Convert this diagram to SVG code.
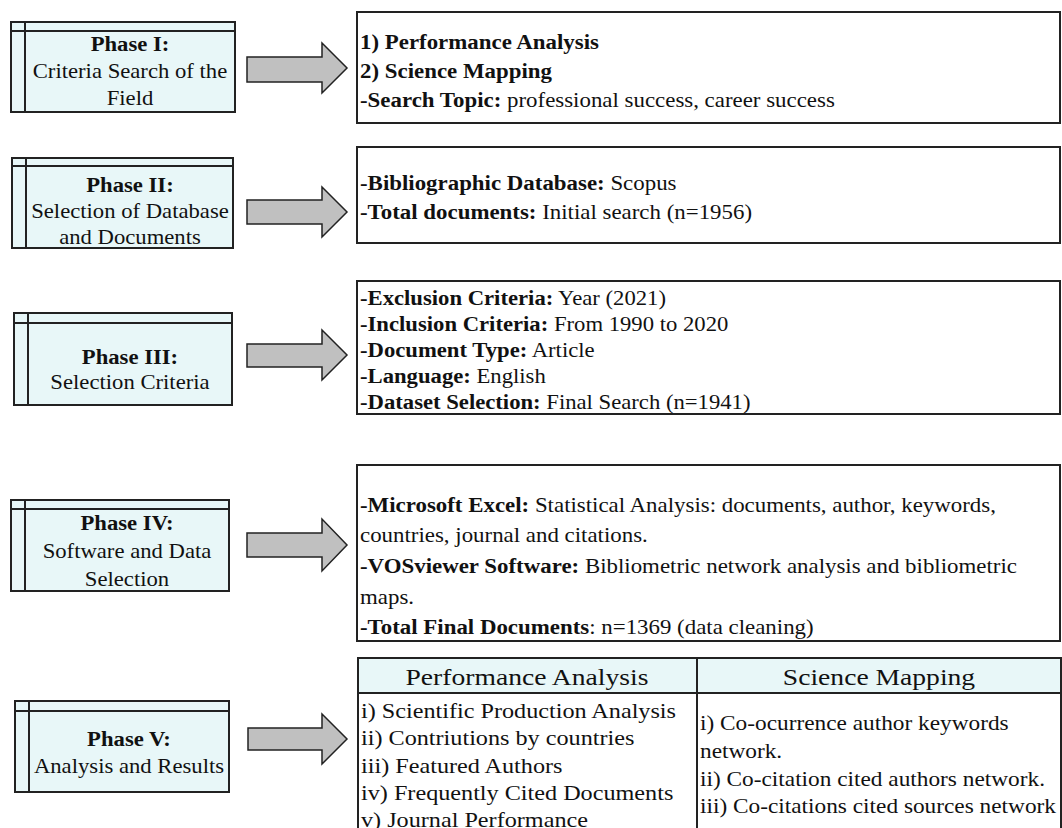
<svg xmlns="http://www.w3.org/2000/svg" width="1062" height="828" viewBox="0 0 1062 828">
<style>
  text { font-family: "Liberation Serif", "Times New Roman", serif; fill: #111; }
  .ph { font-size: 21px; text-anchor: middle; }
  .b { font-weight: bold; }
  .bx { font-size: 21px; }
  .tb { font-size: 22px; }
  .hd { font-size: 24px; text-anchor: middle; }
  .pbox { fill: #e8f7f8; stroke: #222; stroke-width: 2; }
  .pline { stroke: #222; stroke-width: 2; fill: none; }
  .tbox { fill: #fff; stroke: #222; stroke-width: 2; }
  .arrow { fill: #c0c0c0; stroke: #222; stroke-width: 1.5; stroke-linejoin: miter; }
</style>
<rect width="1062" height="828" fill="#fff"/>

<g id="connectors">
  <path class="arrow" d="M247,57 H322 V43 L347,68 L322,93 V82 H247 Z"/>
  <path class="arrow" d="M247,200 H322 V187 L347,212 L322,237 V224 H247 Z"/>
  <path class="arrow" d="M247,344 H322 V330 L347,355 L322,380 V367 H247 Z"/>
  <path class="arrow" d="M247,533 H322 V519 L347,545 L322,571 V557 H247 Z"/>
  <path class="arrow" d="M248,728 H322 V714 L347,739 L322,764 V750 H248 Z"/>
</g>

<g id="phase1">
  <rect class="pbox" x="11" y="22" width="224" height="90"/>
  <path class="pline" d="M11,31 H235 M25,22 V112"/>
  <g transform="matrix(1.08,0,0,1,-10.4,0)">
    <text class="ph b" x="130" y="51">Phase I:</text>
    <text class="ph" x="130" y="78">Criteria Search of the</text>
    <text class="ph" x="130" y="105">Field</text>
  </g>
</g>

<g id="phase2">
  <rect class="pbox" x="12" y="158" width="221" height="90"/>
  <path class="pline" d="M12,166 H233 M26,158 V248"/>
  <g transform="matrix(1.08,0,0,1,-10.4,0)">
    <text class="ph b" x="130" y="192">Phase II:</text>
    <text class="ph" x="130" y="218">Selection of Database</text>
    <text class="ph" x="130" y="244">and Documents</text>
  </g>
</g>

<g id="phase3">
  <rect class="pbox" x="14" y="313" width="218" height="92"/>
  <path class="pline" d="M14,323 H232 M28,313 V405"/>
  <g transform="matrix(1.08,0,0,1,-10.4,0)">
    <text class="ph b" x="130" y="364">Phase III:</text>
    <text class="ph" x="130" y="389">Selection Criteria</text>
  </g>
</g>

<g id="phase4">
  <rect class="pbox" x="11" y="500" width="218" height="91"/>
  <path class="pline" d="M11,509 H229 M25,500 V591"/>
  <g transform="matrix(1.08,0,0,1,-10.16,0)">
    <text class="ph b" x="127" y="530">Phase IV:</text>
    <text class="ph" x="127" y="558">Software and Data</text>
    <text class="ph" x="127" y="586">Selection</text>
  </g>
</g>

<g id="phase5">
  <rect class="pbox" x="15" y="701" width="214" height="91"/>
  <path class="pline" d="M15,711 H229 M29,701 V792"/>
  <g transform="matrix(1.08,0,0,1,-10.32,0)">
    <text class="ph b" x="129" y="746">Phase V:</text>
    <text class="ph" x="129" y="773">Analysis and Results</text>
  </g>
</g>

<g id="box1">
  <rect class="tbox" x="357" y="12" width="703" height="111"/>
  <g transform="matrix(1.09,0,0,1,-32.4,0)">
    <text class="bx b" x="360" y="49">1) Performance Analysis</text>
    <text class="bx b" x="360" y="78">2) Science Mapping</text>
    <text class="bx" x="360" y="107"><tspan class="b">-Search Topic:</tspan> professional success, career success</text>
  </g>
</g>

<g id="box2">
  <rect class="tbox" x="357" y="147" width="703" height="96"/>
  <g transform="matrix(1.09,0,0,1,-32.4,0)">
    <text class="bx" x="360" y="190"><tspan class="b">-Bibliographic Database:</tspan> Scopus</text>
    <text class="bx" x="360" y="219"><tspan class="b">-Total documents:</tspan> Initial search (n=1956)</text>
  </g>
</g>

<g id="box3">
  <rect class="tbox" x="357" y="281" width="703" height="133"/>
  <g transform="matrix(1.08,0,0,1,-28.8,0)">
    <text class="bx" x="360" y="305"><tspan class="b">-Exclusion Criteria:</tspan> Year (2021)</text>
    <text class="bx" x="360" y="331"><tspan class="b">-Inclusion Criteria:</tspan> From 1990 to 2020</text>
    <text class="bx" x="360" y="357"><tspan class="b">-Document Type:</tspan> Article</text>
    <text class="bx" x="360" y="383"><tspan class="b">-Language:</tspan> English</text>
    <text class="bx" x="360" y="409"><tspan class="b">-Dataset Selection:</tspan> Final Search (n=1941)</text>
  </g>
</g>

<g id="box4">
  <rect class="tbox" x="357" y="465" width="703" height="176"/>
  <g transform="matrix(1.09,0,0,1,-32.4,0)">
    <text class="bx" x="360" y="512"><tspan class="b">-Microsoft Excel:</tspan> Statistical Analysis: documents, author, keywords,</text>
    <text class="bx" x="360" y="542">countries, journal and citations.</text>
    <text class="bx" x="360" y="573"><tspan class="b">-VOSviewer Software:</tspan> Bibliometric network analysis and bibliometric</text>
    <text class="bx" x="360" y="604">maps.</text>
    <text class="bx" x="360" y="634"><tspan class="b">-Total Final Documents</tspan>: n=1369 (data cleaning)</text>
  </g>
</g>

<g id="table5">
  <rect x="358" y="658" width="703" height="35" fill="#e8f7f8"/>
  <rect x="358" y="658" width="703" height="200" fill="none" stroke="#222" stroke-width="2"/>
  <path class="pline" d="M358,693 H1061 M697,658 V828"/>
  <g transform="matrix(1.15,0,0,1,-79.05,0)">
    <text class="hd" x="527" y="685">Performance Analysis</text>
  </g>
  <g transform="matrix(1.15,0,0,1,-131.85,0)">
    <text class="hd" x="879" y="685">Science Mapping</text>
  </g>
  <g transform="matrix(1.1,0,0,1,-36.1,0)">
    <text class="tb" x="361" y="718">i) Scientific Production Analysis</text>
    <text class="tb" x="361" y="745">ii) Contriutions by countries</text>
    <text class="tb" x="361" y="773">iii) Featured Authors</text>
    <text class="tb" x="361" y="800">iv) Frequently Cited Documents</text>
    <text class="tb" x="361" y="827">v) Journal Performance</text>
  </g>
  <g transform="matrix(1.06,0,0,1,-42,0)">
    <text class="tb" x="700" y="730">i) Co-ocurrence author keywords</text>
    <text class="tb" x="700" y="758">network.</text>
    <text class="tb" x="700" y="786">ii) Co-citation cited authors network.</text>
    <text class="tb" x="700" y="813">iii) Co-citations cited sources network</text>
  </g>
</g>
</svg>
